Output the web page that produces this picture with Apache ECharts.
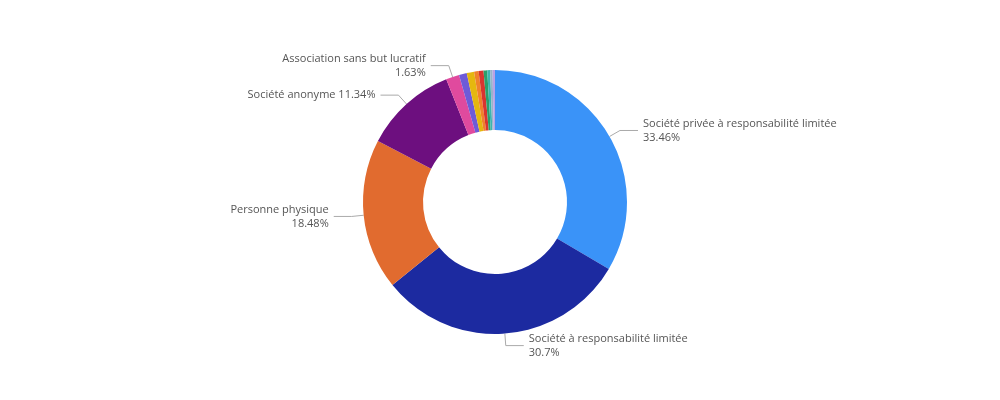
<!DOCTYPE html>
<html><head><meta charset="utf-8">
<script src="https://cdn.jsdelivr.net/npm/echarts@6/dist/echarts.min.js"></script>
<style>html,body{margin:0;background:#fff}#c{width:1000px;height:400px}</style>
</head><body><div id="c"></div>
<script>
const names = ['Société privée à responsabilité limitée','Société à responsabilité limitée','Personne physique','Société anonyme','Association sans but lucratif','Autre 1','Autre 2','Autre 3','Autre 4','Autre 5','Autre 6','Autre 7','Autre 8'];
const values = [33.46, 30.7, 18.48, 11.34, 1.63, 0.95, 0.9, 0.55, 0.6, 0.45, 0.35, 0.3, 0.29];
const colors = ['#3a93f8','#1c2aa0','#e16b2f','#6d0f7f','#e04a9e','#6e5bd8','#e5b70f','#f0822b','#d9352f','#2aa06b','#3bb6b0','#9ab3c9','#b9a2e6'];
const labelled = 5;
const chart = echarts.init(document.getElementById('c'));
chart.setOption({
  animation:false,
  series:[{
    type:'pie', center:[495,202], radius:[72,132], startAngle:90,
    data: names.map((n,i)=>({name:n,value:values[i],itemStyle:{color:colors[i]},
      label:{show:i<labelled}, labelLine:{show:i<labelled}})),
    label:{color:'#555',fontSize:11,fontFamily:'Segoe UI, Open Sans, sans-serif',lineHeight:14,
      formatter:p=>p.dataIndex===3?p.name+' '+p.value+'%':p.name+'\n'+p.value+'%'},
    labelLine:{length:12,length2:18,lineStyle:{color:'#aaa'}}
  }]
});
</script></body></html>
